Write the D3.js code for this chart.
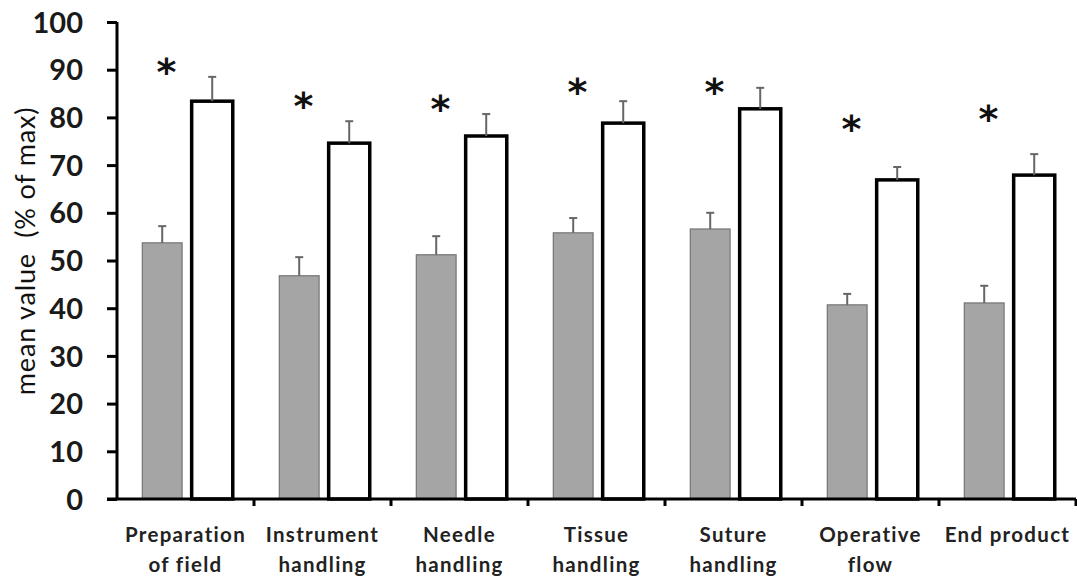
<!DOCTYPE html>
<html><head><meta charset="utf-8">
<script src="https://cdn.jsdelivr.net/npm/d3@7/dist/d3.min.js"></script>
<style>body{margin:0;background:#fff}svg{display:block}</style>
</head><body>
<svg id="c" width="1077" height="580"></svg>
<script>
const categories = [["Preparation","of field"],["Instrument","handling"],["Needle","handling"],["Tissue","handling"],["Suture","handling"],["Operative","flow"],["End product"]];
const grayValues = [53.7, 46.8, 51.2, 55.8, 56.6, 40.7, 41.1];
const grayErrors = [3.5, 3.9, 3.9, 3.1, 3.4, 2.3, 3.6];
const whiteValues = [83.4, 74.6, 76.1, 78.8, 81.8, 66.9, 67.9];
const whiteErrors = [5.1, 4.6, 4.6, 4.6, 4.4, 2.7, 4.4];
const asteriskLevel = [90.4, 83.2, 82.6, 86.2, 86.2, 78.4, 80.5];
const yTicks = [0,10,20,30,40,50,60,70,80,90,100];

const svg = d3.select("#c");
const x = d3.scaleBand().domain(d3.range(categories.length)).range([117, 1076]).paddingInner(0).paddingOuter(0);
const y = d3.scaleLinear().domain([0,100]).range([499, 22]);
const bw = x.bandwidth();

// bars
const g = svg.append("g");
g.selectAll("rect.gray").data(grayValues).join("rect")
  .attr("x",(d,i)=>x(i)+bw*0.185).attr("width",bw*0.29)
  .attr("y",d=>y(d)).attr("height",d=>y(0)-y(d))
  .attr("fill","#a5a5a5").attr("stroke","#7a7a7a").attr("stroke-width",1.3);
g.selectAll("rect.white").data(whiteValues).join("rect")
  .attr("x",(d,i)=>x(i)+bw*0.545).attr("width",bw*0.3)
  .attr("y",d=>y(d)).attr("height",d=>y(0)-y(d))
  .attr("fill","#fff").attr("stroke","#000").attr("stroke-width",3.5);

// error bars (upward only)
function err(vals, errs, off, col){
  vals.forEach((v,i)=>{
    const cx = x(i)+bw*off;
    g.append("line").attr("x1",cx).attr("x2",cx).attr("y1",y(v)).attr("y2",y(v+errs[i]))
      .attr("stroke",col).attr("stroke-width",2);
    g.append("line").attr("x1",cx-4).attr("x2",cx+4).attr("y1",y(v+errs[i])).attr("y2",y(v+errs[i]))
      .attr("stroke",col).attr("stroke-width",2);
  });
}
err(grayValues, grayErrors, 0.33, "#666");
err(whiteValues, whiteErrors, 0.695, "#666");

// asterisks
g.selectAll("text.ast").data(asteriskLevel).join("text")
  .attr("x",(d,i)=>x(i)+bw*0.36).attr("y",d=>y(d)+17)
  .attr("text-anchor","middle").attr("font-family","DejaVu Sans").attr("font-weight","bold").attr("font-size",38)
  .attr("fill","#111").text("*");

// y axis
const ya = svg.append("g").attr("transform","translate(117,0)")
  .call(d3.axisLeft(y).tickValues(yTicks).tickSize(10).tickPadding(24).tickFormat(d3.format("d")));
ya.select(".domain").attr("stroke","#000").attr("stroke-width",3).attr("d","M0,22V499");
ya.selectAll(".tick line").attr("stroke","#000").attr("stroke-width",3);
ya.selectAll(".tick text").attr("font-family","Lato").attr("font-weight","bold").attr("font-size",29).attr("fill","#1a1a1a").attr("dy","0.35em");

// x axis
const xa = svg.append("g").attr("transform","translate(0,499)");
xa.append("line").attr("x1",107).attr("x2",1076).attr("y1",0).attr("y2",0).attr("stroke","#000").attr("stroke-width",3);
const bounds = d3.range(categories.length+1).map(i=> i<categories.length ? x(i) : x(categories.length-1)+bw);
xa.selectAll("line.t").data(bounds.slice(1)).join("line")
  .attr("x1",d=>d).attr("x2",d=>d).attr("y1",0).attr("y2",7).attr("stroke","#000").attr("stroke-width",3);
categories.forEach((lines,i)=>{
  const t = xa.append("text").attr("x",x(i)+bw/2).attr("y",43).attr("text-anchor","middle")
    .attr("font-family","Lato").attr("font-weight","bold").attr("font-size",20.5).attr("letter-spacing",1.3).attr("fill","#222");
  lines.forEach((l,j)=>t.append("tspan").attr("x",x(i)+bw/2).attr("dy",j===0?0:30).text(l));
});

// y label
svg.append("text").attr("transform","translate(35,251) rotate(-90)").attr("text-anchor","middle")
  .attr("font-family","Lato").attr("font-size",27).attr("letter-spacing",0.8).attr("fill","#111")
  .style("white-space","pre").text("mean value  (% of max)");
</script>
</body></html>
